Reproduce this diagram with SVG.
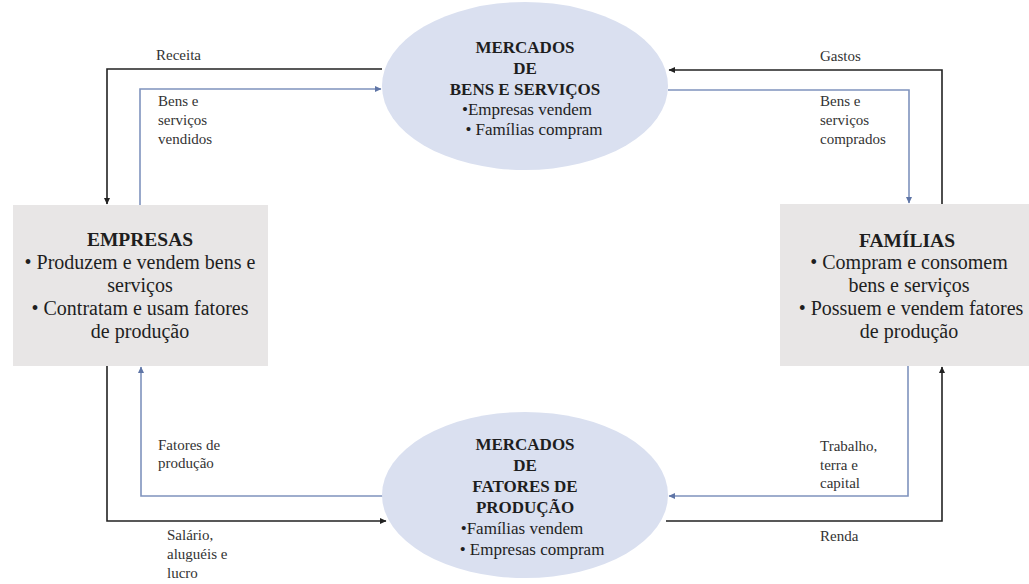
<svg xmlns="http://www.w3.org/2000/svg" width="1029" height="584" viewBox="0 0 1029 584">
<defs>
<style>
.box{fill:#e8e6e6;}
.ell{fill:#dae0f0;}
.t{font-family:'Liberation Serif','Times New Roman','DejaVu Serif',serif;fill:#1e1e1e;}
.hb{font-size:17px;font-weight:bold;text-anchor:middle;}
.hr{font-size:17px;text-anchor:middle;}
.bb{font-size:19.5px;font-weight:bold;text-anchor:middle;}
.br{font-size:20px;text-anchor:middle;}
.lb{font-size:15px;fill:#333;}
.k{fill:none;stroke:#222;stroke-width:1.6;}
.b{fill:none;stroke:#7f93bd;stroke-width:1.6;}
</style>
<marker id="ak" markerWidth="7" markerHeight="7" refX="6" refY="3.5" orient="auto" markerUnits="userSpaceOnUse">
<path d="M0,0.5 L6.5,3.5 L0,6.5 z" fill="#222"/>
</marker>
<marker id="ab" markerWidth="7" markerHeight="7" refX="6" refY="3.5" orient="auto" markerUnits="userSpaceOnUse">
<path d="M0,0.5 L6.5,3.5 L0,6.5 z" fill="#5f75a6"/>
</marker>
</defs>
<rect width="1029" height="584" fill="#ffffff"/>

<g id="connectors">
<path class="k" d="M382 69 H107 V204" marker-end="url(#ak)"/>
<path class="b" d="M140 205 V89 H381" marker-end="url(#ab)"/>
<path class="k" d="M942 204 V70 H669" marker-end="url(#ak)"/>
<path class="b" d="M668 90 H909 V203" marker-end="url(#ab)"/>
<path class="b" d="M383 496 H141 V367" marker-end="url(#ab)"/>
<path class="k" d="M107 366 V521 H386" marker-end="url(#ak)"/>
<path class="b" d="M908 366 V496 H669" marker-end="url(#ab)"/>
<path class="k" d="M666 521 H942 V367" marker-end="url(#ak)"/>
<g class="t lb">
<text x="156" y="60">Receita</text>
<text x="158" y="106">Bens e</text>
<text x="158" y="125">serviços</text>
<text x="158" y="144">vendidos</text>
<text x="820" y="61">Gastos</text>
<text x="820" y="106">Bens e</text>
<text x="820" y="125">serviços</text>
<text x="820" y="144">comprados</text>
<text x="158" y="450">Fatores de</text>
<text x="158" y="468">produção</text>
<text x="167" y="540">Salário,</text>
<text x="167" y="559">aluguéis  e</text>
<text x="167" y="578">lucro</text>
<text x="820" y="451">Trabalho,</text>
<text x="820" y="470">terra e</text>
<text x="820" y="488">capital</text>
<text x="820" y="541">Renda</text>
</g>
</g>

<g id="mercado-bens">
<ellipse class="ell" cx="525" cy="86" rx="143" ry="84"/>
<text class="t hb" x="525" y="53">MERCADOS</text>
<text class="t hb" x="525" y="74">DE</text>
<text class="t hb" x="525" y="95">BENS E SERVIÇOS</text>
<text class="t hr" x="527" y="115">•Empresas  vendem</text>
<text class="t hr" x="534" y="135">• Famílias compram</text>
</g>

<g id="mercado-fatores">
<ellipse class="ell" cx="525" cy="495" rx="143" ry="83"/>
<text class="t hb" x="525" y="450">MERCADOS</text>
<text class="t hb" x="525" y="471">DE</text>
<text class="t hb" x="525" y="492">FATORES DE</text>
<text class="t hb" x="525" y="513">PRODUÇÃO</text>
<text class="t hr" x="522" y="534">•Famílias vendem</text>
<text class="t hr" x="532" y="555">• Empresas  compram</text>
</g>

<g id="empresas">
<rect class="box" x="13" y="205" width="255" height="161"/>
<text class="t bb" x="140" y="246">EMPRESAS</text>
<text class="t br" x="140" y="269">• Produzem e vendem bens e</text>
<text class="t br" x="140" y="292">serviços</text>
<text class="t br" x="140" y="315">• Contratam e usam fatores</text>
<text class="t br" x="140" y="338">de produção</text>
</g>

<g id="familias">
<rect class="box" x="780" y="204" width="249" height="162"/>
<text class="t bb" x="907" y="247">FAMÍLIAS</text>
<text class="t br" x="909" y="269">• Compram e consomem</text>
<text class="t br" x="909" y="292">bens e serviços</text>
<text class="t br" x="911" y="315">• Possuem e vendem fatores</text>
<text class="t br" x="909" y="338">de produção</text>
</g>
</svg>
